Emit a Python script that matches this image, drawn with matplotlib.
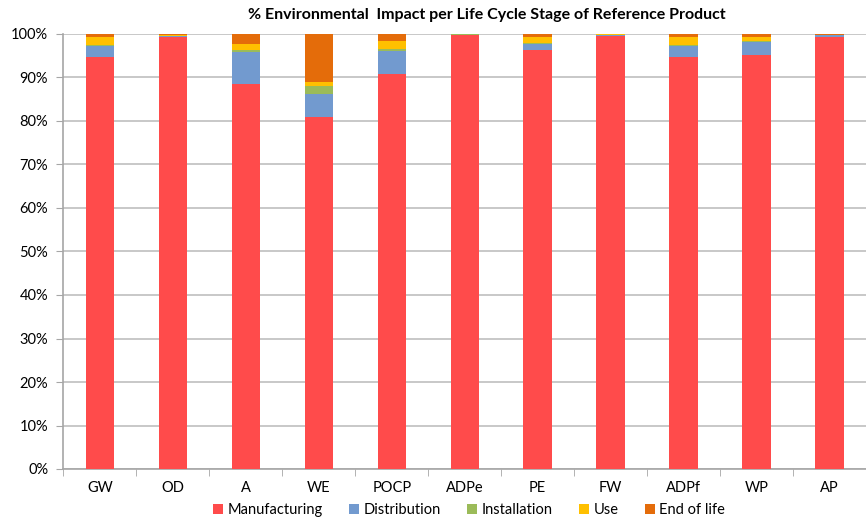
import numpy as np
import matplotlib.pyplot as plt
from matplotlib.ticker import PercentFormatter

plt.rcParams['font.family'] = ['Lato', 'DejaVu Sans']

categories = ['GW', 'OD', 'A', 'WE', 'POCP', 'ADPe', 'PE', 'FW', 'ADPf', 'WP', 'AP']
stages = ['Manufacturing', 'Distribution', 'Installation', 'Use', 'End of life']

# percentages per stage
manufacturing = [94.8, 99.3, 88.4, 80.9, 90.7, 99.8, 96.3, 99.6, 94.8, 95.2, 99.2]
distribution = [2.4, 0.2, 7.5, 5.2, 5.5, 0.05, 1.5, 0.1, 2.4, 3.0, 0.5]
installation = [0.2, 0.1, 0.5, 2.0, 0.4, 0.05, 0.2, 0.05, 0.2, 0.2, 0.05]
use = [1.9, 0.2, 1.3, 0.9, 1.9, 0.05, 1.3, 0.2, 1.9, 0.9, 0.1]
end_of_life = [0.7, 0.2, 2.3, 11.0, 1.5, 0.05, 0.7, 0.05, 0.7, 0.7, 0.15]

series = [manufacturing, distribution, installation, use, end_of_life]
colors = ['#FF4B4B', '#729ACF', '#9BBB59', '#FFC000', '#E46C0A']

fig = plt.figure(figsize=(8.66, 5.2), dpi=100)
ax = fig.add_axes([63.5/866, 1-469/520, 1-63.5/866, (469-34)/520])

x = np.arange(len(categories))
bottom = np.zeros(len(categories))
for name, vals, c in zip(stages, series, colors):
    vals = np.array(vals)
    ax.bar(x, vals, 0.39, bottom=bottom, color=c, label=name, zorder=3)
    bottom += vals

ax.set_ylim(0, 100)
ax.set_xlim(-0.5, 10.5 - 10/74)
ax.set_yticks(np.arange(0, 101, 10))
ax.yaxis.set_major_formatter(PercentFormatter(decimals=0))
ax.set_xticks(x)
ax.set_xticklabels(categories)
ax.set_xticks(np.arange(-0.5, 11, 1), minor=True)
ax.tick_params(axis='x', which='major', length=0, pad=9, labelsize=10.5)
ax.tick_params(axis='x', which='minor', length=5, color='#a6a6a6')
ax.tick_params(axis='y', length=5, color='#a6a6a6', labelsize=10.5, pad=6)
ax.grid(axis='y', color='#bfbfbf', linewidth=1.2, zorder=0)

for s in ['top', 'right']:
    ax.spines[s].set_visible(False)
for s in ['left', 'bottom']:
    ax.spines[s].set_color('#a6a6a6')
    ax.spines[s].set_linewidth(1.2)

fig.text(487/866, 1-15/520, '% Environmental  Impact per Life Cycle Stage of Reference Product',
         ha='center', va='center', fontsize=11.5, fontweight='bold')

fig.legend(loc='center', bbox_to_anchor=(469/866, 1-510/520), ncol=5, frameon=False,
           fontsize=10.5, handlelength=0.7, handleheight=0.7, handletextpad=0.3,
           columnspacing=1.8)

fig.savefig('out.png', dpi=100)
